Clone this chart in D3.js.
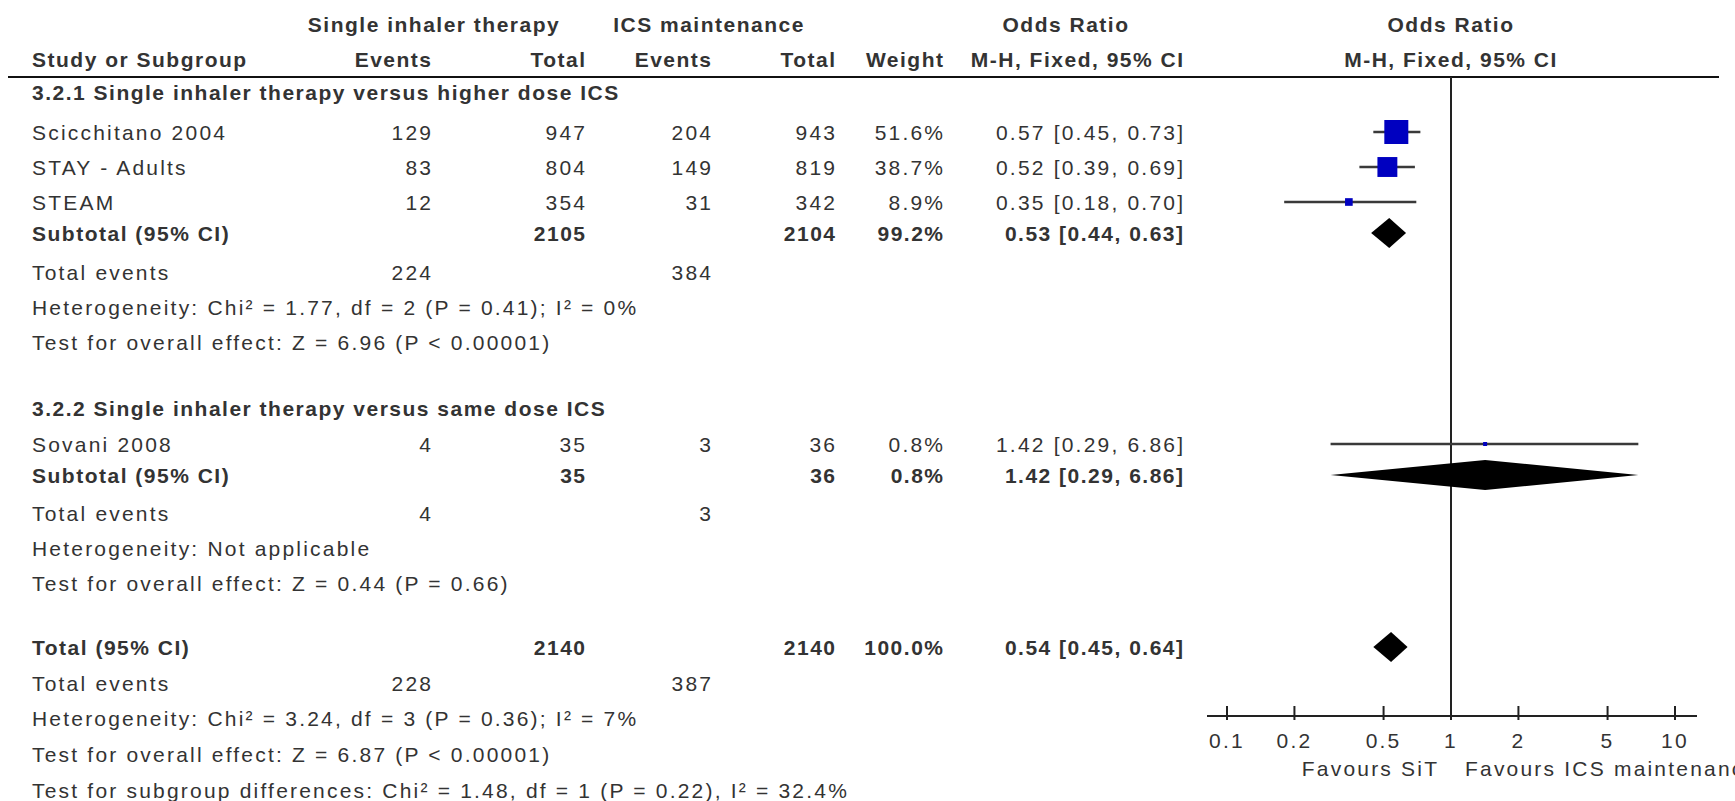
<!DOCTYPE html>
<html><head><meta charset="utf-8">
<script src="https://cdn.jsdelivr.net/npm/d3@7"></script>
<style>
html,body{margin:0;padding:0;background:#fff;}
svg{display:block;}
text{font-family:"Liberation Sans",Arial,sans-serif;fill:#333;}
</style></head>
<body>
<svg id="chart" width="1735" height="801"></svg>
<script>
// ---- data ----
const studies = ["Scicchitano 2004", "STAY - Adults", "STEAM", "Sovani 2008"];
const studyGroup = [0, 0, 0, 1];
const sitEvents = [129, 83, 12, 4];
const sitTotal = [947, 804, 354, 35];
const icsEvents = [204, 149, 31, 3];
const icsTotal = [943, 819, 342, 36];
const weights = [51.6, 38.7, 8.9, 0.8];
const orEst = [0.57, 0.52, 0.35, 1.42];
const orLo = [0.45, 0.39, 0.18, 0.29];
const orHi = [0.73, 0.69, 0.70, 6.86];

const groupTitles = ["3.2.1 Single inhaler therapy versus higher dose ICS", "3.2.2 Single inhaler therapy versus same dose ICS"];
const subSitTotal = [2105, 35];
const subIcsTotal = [2104, 36];
const subWeight = [99.2, 0.8];
const subOr = [0.53, 1.42];
const subLo = [0.44, 0.29];
const subHi = [0.63, 6.86];
const subSitEvents = [224, 4];
const subIcsEvents = [384, 3];
const subHet = ["Heterogeneity: Chi\u00B2 = 1.77, df = 2 (P = 0.41); I\u00B2 = 0%", "Heterogeneity: Not applicable"];
const subEffect = ["Test for overall effect: Z = 6.96 (P < 0.00001)", "Test for overall effect: Z = 0.44 (P = 0.66)"];

const totSitTotal = 2140, totIcsTotal = 2140, totWeight = 100.0;
const totOr = 0.54, totLo = 0.45, totHi = 0.64;
const totSitEvents = 228, totIcsEvents = 387;
const totHet = "Heterogeneity: Chi\u00B2 = 3.24, df = 3 (P = 0.36); I\u00B2 = 7%";
const totEffect = "Test for overall effect: Z = 6.87 (P < 0.00001)";
const subgroupDiff = "Test for subgroup differences: Chi\u00B2 = 1.48, df = 1 (P = 0.22), I\u00B2 = 32.4%";

const tickValues = [0.1, 0.2, 0.5, 1, 2, 5, 10];
const tickLabels = ["0.1", "0.2", "0.5", "1", "2", "5", "10"];
const favoursLabels = ["Favours SiT", "Favours ICS maintenance"];

// ---- layout ----
const svg = d3.select("#chart");
const FS = 21, LS = 2.2, LSB = 1.5;
const col = {name: 32, e1: 431, t1: 585, e2: 711, t2: 835, w: 943, ci: 1183};
const axisY = 716, lineY = 77;
const x = d3.scaleLog().domain([0.1, 10]).range([1227, 1675]);
const sq = d3.scalePow().exponent(0.65).domain([0, 51.6]).range([0, 24]);
const fmt2 = d3.format(".2f");
const ciText = (e, l, h) => `${fmt2(e)} [${fmt2(l)}, ${fmt2(h)}]`;

function txt(xp, yc, s, opts = {}) {
  const bold = !!opts.bold;
  const t = svg.append("text")
    .attr("x", xp).attr("y", yc + 7.5)
    .attr("font-size", FS)
    .attr("font-weight", bold ? "bold" : "normal")
    .style("letter-spacing", (bold ? LSB : LS) + "px")
    .attr("text-anchor", opts.anchor || "start")
    .text(s);
  if (opts.anchor === "end") t.attr("dx", bold ? LSB : LS);
  return t;
}

// headers
txt(434, 24, "Single inhaler therapy", {bold: true, anchor: "middle"});
txt(709, 24, "ICS maintenance", {bold: true, anchor: "middle"});
txt(1066, 24, "Odds Ratio", {bold: true, anchor: "middle"});
txt(x(1), 24, "Odds Ratio", {bold: true, anchor: "middle"});
txt(col.name, 59, "Study or Subgroup", {bold: true});
txt(col.e1, 59, "Events", {bold: true, anchor: "end"});
txt(col.t1, 59, "Total", {bold: true, anchor: "end"});
txt(col.e2, 59, "Events", {bold: true, anchor: "end"});
txt(col.t2, 59, "Total", {bold: true, anchor: "end"});
txt(col.w, 59, "Weight", {bold: true, anchor: "end"});
txt(col.ci, 59, "M-H, Fixed, 95% CI", {bold: true, anchor: "end"});
txt(x(1), 59, "M-H, Fixed, 95% CI", {bold: true, anchor: "middle"});

svg.append("line").attr("x1", 8).attr("x2", 1719).attr("y1", lineY).attr("y2", lineY)
  .attr("stroke", "#111").attr("stroke-width", 2);

// vertical line at OR = 1
svg.append("line").attr("x1", x(1)).attr("x2", x(1)).attr("y1", lineY).attr("y2", axisY)
  .attr("stroke", "#222").attr("stroke-width", 2);

function diamond(yc, e, l, h, hh) {
  const p = [[x(l), yc], [x(e), yc - hh], [x(h), yc], [x(e), yc + hh]];
  svg.append("path").attr("d", "M" + p.map(d => d.join(",")).join("L") + "Z").attr("fill", "#000");
}

const groupLayout = [
  {title: 92, studies: [132, 167, 202], sub: 233, ev: 272, het: 307, eff: 342},
  {title: 408, studies: [444], sub: 475, ev: 513, het: 548, eff: 583}
];

groupTitles.forEach((g, gi) => {
  const L = groupLayout[gi];
  txt(col.name, L.title, g, {bold: true});
  const idx = studies.map((s, i) => i).filter(i => studyGroup[i] === gi);
  idx.forEach((i, k) => {
    const yc = L.studies[k];
    txt(col.name, yc, studies[i]);
    txt(col.e1, yc, sitEvents[i], {anchor: "end"});
    txt(col.t1, yc, sitTotal[i], {anchor: "end"});
    txt(col.e2, yc, icsEvents[i], {anchor: "end"});
    txt(col.t2, yc, icsTotal[i], {anchor: "end"});
    txt(col.w, yc, weights[i].toFixed(1) + "%", {anchor: "end"});
    txt(col.ci, yc, ciText(orEst[i], orLo[i], orHi[i]), {anchor: "end"});
    svg.append("line").attr("x1", x(orLo[i])).attr("x2", x(orHi[i])).attr("y1", yc).attr("y2", yc)
      .attr("stroke", "#3a3a3a").attr("stroke-width", 2.5);
    const s = Math.max(4, sq(weights[i]));
    svg.append("rect").attr("x", x(orEst[i]) - s / 2).attr("y", yc - s / 2)
      .attr("width", s).attr("height", s).attr("fill", "#0000C0");
  });
  txt(col.name, L.sub, "Subtotal (95% CI)", {bold: true});
  txt(col.t1, L.sub, subSitTotal[gi], {bold: true, anchor: "end"});
  txt(col.t2, L.sub, subIcsTotal[gi], {bold: true, anchor: "end"});
  txt(col.w, L.sub, subWeight[gi].toFixed(1) + "%", {bold: true, anchor: "end"});
  txt(col.ci, L.sub, ciText(subOr[gi], subLo[gi], subHi[gi]), {bold: true, anchor: "end"});
  diamond(L.sub, subOr[gi], subLo[gi], subHi[gi], 15);
  txt(col.name, L.ev, "Total events");
  txt(col.e1, L.ev, subSitEvents[gi], {anchor: "end"});
  txt(col.e2, L.ev, subIcsEvents[gi], {anchor: "end"});
  txt(col.name, L.het, subHet[gi]);
  txt(col.name, L.eff, subEffect[gi]);
});

// overall
const T = {tot: 647, ev: 683, het: 718, eff: 754, sg: 790};
txt(col.name, T.tot, "Total (95% CI)", {bold: true});
txt(col.t1, T.tot, totSitTotal, {bold: true, anchor: "end"});
txt(col.t2, T.tot, totIcsTotal, {bold: true, anchor: "end"});
txt(col.w, T.tot, totWeight.toFixed(1) + "%", {bold: true, anchor: "end"});
txt(col.ci, T.tot, ciText(totOr, totLo, totHi), {bold: true, anchor: "end"});
diamond(T.tot, totOr, totLo, totHi, 15);
txt(col.name, T.ev, "Total events");
txt(col.e1, T.ev, totSitEvents, {anchor: "end"});
txt(col.e2, T.ev, totIcsEvents, {anchor: "end"});
txt(col.name, T.het, totHet);
txt(col.name, T.eff, totEffect);
txt(col.name, T.sg, subgroupDiff);

// axis
const axisG = svg.append("g").attr("transform", `translate(0,${axisY})`);
axisG.append("line").attr("x1", x.range()[0] - 20).attr("x2", x.range()[1] + 22)
  .attr("stroke", "#222").attr("stroke-width", 2);
axisG.selectAll(".tk").data(tickValues).join("line")
  .attr("x1", d => x(d)).attr("x2", d => x(d)).attr("y1", -10).attr("y2", 4)
  .attr("stroke", "#222").attr("stroke-width", 2);
tickValues.forEach((v, i) => txt(x(v), axisY + 24, tickLabels[i], {anchor: "middle"}));
txt(x(1) - 14, axisY + 52, favoursLabels[0], {anchor: "end"});
txt(x(1) + 14, axisY + 52, favoursLabels[1]);
</script>
</body></html>
